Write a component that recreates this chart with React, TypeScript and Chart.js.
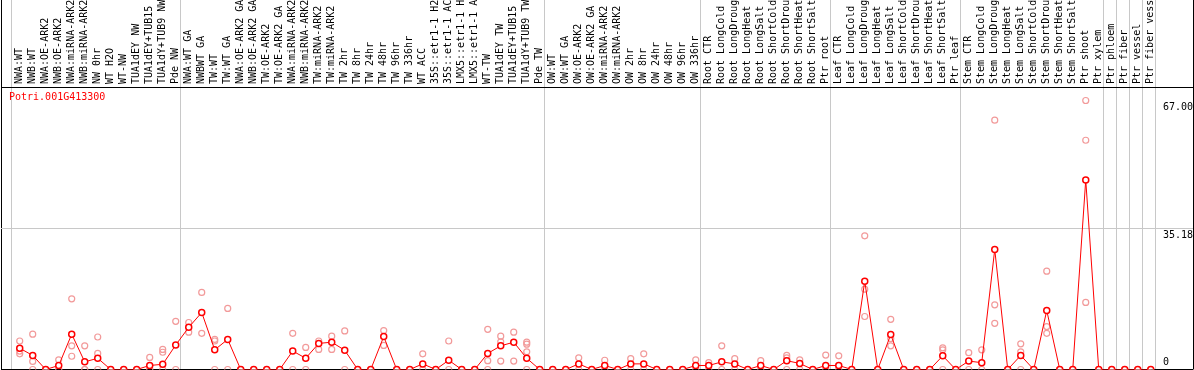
import { useEffect, useRef } from 'react';
import { Chart, registerables } from 'chart.js';

Chart.register(...registerables);

const geneId = 'Potri.001G413300';

const sampleLabels = [
  'NWA:WT', 'NWB:WT', 'NWA:OE-ARK2', 'NWB:OE-ARK2', 'NWA:miRNA-ARK2', 'NWB:miRNA-ARK2', 'NW 0hr', 'WT H2O', 'WT-NW',
  'TUA1dEY NW', 'TUA1dEY+TUB15', 'TUA1dY+TUB9 NW', 'Pde NW',
  'NWA:WT GA', 'NWBWT GA', 'TW:WT', 'TW:WT GA', 'NWA:OE-ARK2 GA', 'NWB:OE-ARK2 GA', 'TW:OE-ARK2', 'TW:OE-ARK2 GA',
  'NWA:miRNA-ARK2', 'NWB:miRNA-ARK2', 'TW:miRNA-ARK2', 'TW:miRNA-ARK2', 'TW 2hr', 'TW 8hr', 'TW 24hr', 'TW 48hr',
  'TW 96hr', 'TW 336hr', 'WT ACC', '35S::etr1-1 H2', '35S::etr1-1 AC', 'LMX5::etr1-1 H', 'LMX5::etr1-1 A', 'WT-TW',
  'TUA1dEY TW', 'TUA1dEY+TUB15', 'TUA1dY+TUB9 TW', 'Pde TW',
  'OW:WT', 'OW:WT GA', 'OW:OE-ARK2', 'OW:OE-ARK2 GA', 'OW:miRNA-ARK2', 'OW:miRNA-ARK2', 'OW 2hr', 'OW 8hr',
  'OW 24hr', 'OW 48hr', 'OW 96hr', 'OW 336hr',
  'Root CTR', 'Root LongCold', 'Root LongDroug', 'Root LongHeat', 'Root LongSalt', 'Root ShortCold', 'Root ShortDrou',
  'Root ShortHeat', 'Root ShortSalt', 'Ptr root',
  'Leaf CTR', 'Leaf LongCold', 'Leaf LongDroug', 'Leaf LongHeat', 'Leaf LongSalt', 'Leaf ShortCold', 'Leaf ShortDrou',
  'Leaf ShortHeat', 'Leaf ShortSalt', 'Ptr leaf',
  'Stem CTR', 'Stem LongCold', 'Stem LongDroug', 'Stem LongHeat', 'Stem LongSalt', 'Stem ShortCold', 'Stem ShortDrou',
  'Stem ShortHeat', 'Stem ShortSalt', 'Ptr shoot', 'Ptr xylem',
  'Ptr phloem', 'Ptr fiber', 'Ptr vessel', 'Ptr fiber vess',
];

const groupSizes = [13, 28, 12, 10, 10, 11, 1, 1, 1, 1];

const meanValues = [
  5.3, 3.5, 0, 1.0, 8.8, 1.9, 2.8, 0, 0, 0, 1.0, 1.3, 6.1,
  10.5, 14.2, 4.9, 7.5, 0, 0, 0, 0, 4.6, 2.8, 6.5, 6.8, 4.8, 0, 0, 8.2, 0, 0, 1.4, 0, 2.3, 0, 0, 4.0, 5.9, 6.8, 2.8, 0,
  0, 0, 1.4, 0, 1.0, 0, 1.4, 1.4, 0, 0, 0, 1.0,
  1.0, 1.9, 1.4, 0, 1.0, 0, 2.2, 1.5, 0, 1.0,
  1.0, 0, 22.0, 0, 8.7, 0, 0, 0, 3.4, 0,
  2.1, 1.7, 29.9, 0, 3.5, 0, 14.7, 0, 0, 47.2, 0,
  0, 0, 0, 0,
];

const replicateValues = [
  [7.1, 4.6, 3.9], [8.8, 2.0, 0], [0, 0], [2.4, 0, 0], [17.6, 5.9, 3.3], [5.9, 0, 0], [8.1, 4.0, 0], [0], [0], [0],
  [3.0, 0, 0], [5.0, 4.3, 0], [12.0, 0],
  [11.7, 9.3], [19.2, 9.0], [7.5, 7.1, 0], [15.2, 0], [0], [0], [0], [0], [9.0, 0], [5.5, 0], [7.1, 5.0], [8.3, 5.0],
  [9.6, 0], [0], [0], [9.7, 6.0], [0], [0], [3.9, 0], [0], [7.1, 0], [0], [0], [10.0, 2.2, 0], [8.3, 6.9, 2.1],
  [9.3, 2.1], [6.8, 6.3, 4.4, 0], [0],
  [0], [0], [2.9, 0], [0], [2.3, 0], [0], [2.7, 0], [3.9, 0], [0], [0], [0], [2.4, 0],
  [1.7, 0], [5.9, 0], [2.7, 0], [0], [2.2, 0], [0], [3.5, 2.9, 0], [2.4, 0], [0], [3.6, 0],
  [3.4, 0], [0], [33.3, 20.0, 13.2], [0], [12.5, 7.7, 5.9], [0], [0], [0], [5.4, 4.9, 0], [0],
  [4.2, 0], [4.9, 0], [62.1, 16.1, 11.5], [0], [6.4, 4.4, 0], [0], [24.5, 10.7, 9.0], [0], [0], [67.0, 57.1, 16.7], [0],
  [0], [0], [0], [0],
];

const yMid = 35.18;
const yMaxLabel = 67.0;
const yMax = 70.36;

const FONT = 'DejaVu Sans Mono';
const GRID_GREY = '#c8c8c8';
const RED = '#ff0000';
const REP_RED = '#f29a9a';
const HEADER_H = 87;
const X_MIN = -1.44;
const X_MAX = 90.25;
const BOUNDARY_SHIFT = 0.38;

const boundaries: number[] = [];
{
  let start = 0;
  boundaries.push(start - 1 + BOUNDARY_SHIFT);
  for (const s of groupSizes) {
    start += s;
    boundaries.push(start - 1 + BOUNDARY_SHIFT);
  }
}
const boundarySet = new Set(boundaries);
const xTickValues = [X_MIN, X_MAX, ...boundaries, ...sampleLabels.map((_, i) => i)].sort((a, b) => a - b);

const meanPoints = meanValues.map((v, i) => ({ x: i, y: v }));
const replicatePoints = replicateValues.flatMap((reps, i) => reps.map((v) => ({ x: i, y: v })));

const titlePlugin = {
  id: 'geneTitle',
  afterDraw(chart: any) {
    const { ctx, chartArea } = chart;
    ctx.save();
    ctx.font = `10px "${FONT}"`;
    ctx.fillStyle = RED;
    ctx.textBaseline = 'middle';
    ctx.textAlign = 'left';
    ctx.fillText(geneId, chartArea.left + 8, chartArea.top + 10);
    ctx.restore();
  },
};

const yLabel = (v: number) => (v === 0 ? '0' : v === yMid ? yMid.toFixed(2) : v === yMaxLabel ? yMaxLabel.toFixed(2) : '');

export default function App() {
  const ref = useRef<HTMLCanvasElement>(null);

  useEffect(() => {
    document.body.style.margin = '0';
    const chart = new Chart(ref.current as HTMLCanvasElement, {
      type: 'line',
      data: {
        datasets: [
          {
            type: 'line',
            data: meanPoints,
            borderColor: RED,
            borderWidth: 1,
            pointRadius: 3,
            pointBorderWidth: 1.5,
            pointBorderColor: RED,
            pointBackgroundColor: '#ffffff',
            tension: 0,
            xAxisID: 'x',
            yAxisID: 'y',
          },
          {
            type: 'scatter',
            data: replicatePoints,
            showLine: false,
            pointRadius: 3,
            pointBorderWidth: 1.2,
            pointBorderColor: REP_RED,
            pointBackgroundColor: 'rgba(0,0,0,0)',
            xAxisID: 'x',
            yAxisID: 'y',
          },
        ] as any,
      },
      options: {
        responsive: false,
        animation: false,
        events: [],
        layout: { autoPadding: false, padding: { left: 1, right: 1, top: 0, bottom: 0.5 } },
        plugins: { legend: { display: false }, tooltip: { enabled: false }, title: { display: false } },
        scales: {
          x: {
            type: 'linear',
            position: 'top',
            min: X_MIN,
            max: X_MAX,
            afterBuildTicks: (s: any) => {
              s.ticks = xTickValues.map((v) => ({ value: v }));
            },
            afterFit: (s: any) => {
              s.height = HEADER_H;
            },
            border: { display: false },
            grid: {
              drawOnChartArea: true,
              drawTicks: true,
              tickLength: HEADER_H,
              lineWidth: 1,
              color: (ctx: any) => {
                const v = ctx.tick ? ctx.tick.value : NaN;
                if (v === X_MIN || v === X_MAX) return '#000000';
                if (boundarySet.has(v)) return GRID_GREY;
                return 'rgba(0,0,0,0)';
              },
            },
            ticks: {
              autoSkip: false,
              minRotation: 90,
              maxRotation: 90,
              padding: -(HEADER_H - 3),
              labelOffset: 12,
              color: '#000000',
              font: { family: FONT, size: 10, lineHeight: 1.2 },
              callback: (v: any) => (Number.isInteger(v) && v >= 0 && v < sampleLabels.length ? sampleLabels[v] : ''),
            },
          },
          y: {
            type: 'linear',
            position: 'right',
            min: 0,
            max: yMax,
            afterBuildTicks: (s: any) => {
              s.ticks = [0, yMid, yMaxLabel, yMax].map((v) => ({ value: v }));
            },
            border: { display: false },
            grid: {
              drawTicks: false,
              lineWidth: 1,
              color: (ctx: any) => {
                const v = ctx.tick ? ctx.tick.value : NaN;
                if (v === 0 || v === yMax) return '#000000';
                if (v === yMid) return GRID_GREY;
                return 'rgba(0,0,0,0)';
              },
            },
            ticks: {
              mirror: true,
              padding: 0,
              align: 'start',
              crossAlign: 'far',
              labelOffset: 2,
              font: { family: FONT, size: 10, lineHeight: 0.01 },
              color: (ctx: any) => (ctx.tick && (ctx.tick.value === yMid || ctx.tick.value === yMaxLabel) ? '#000000' : 'rgba(0,0,0,0)'),
              callback: (v: any) => yLabel(v),
            },
          },
          y0: {
            type: 'linear',
            position: 'right',
            min: 0,
            max: yMax,
            afterBuildTicks: (s: any) => {
              s.ticks = [0, yMid, yMaxLabel].map((v) => ({ value: v }));
            },
            border: { display: false },
            grid: { display: false, drawTicks: false },
            ticks: {
              mirror: true,
              padding: 0,
              align: 'end',
              crossAlign: 'far',
              labelOffset: -2,
              font: { family: FONT, size: 10, lineHeight: 0.01 },
              color: (ctx: any) => (ctx.tick && ctx.tick.value === 0 ? '#000000' : 'rgba(0,0,0,0)'),
              callback: (v: any) => yLabel(v),
            },
          },
        } as any,
      },
      plugins: [titlePlugin],
    });
    return () => chart.destroy();
  }, []);

  return (
    <div style={{ width: 1194, height: 370 }}>
      <canvas ref={ref} width={1194} height={370} style={{ display: 'block' }} />
    </div>
  );
}
